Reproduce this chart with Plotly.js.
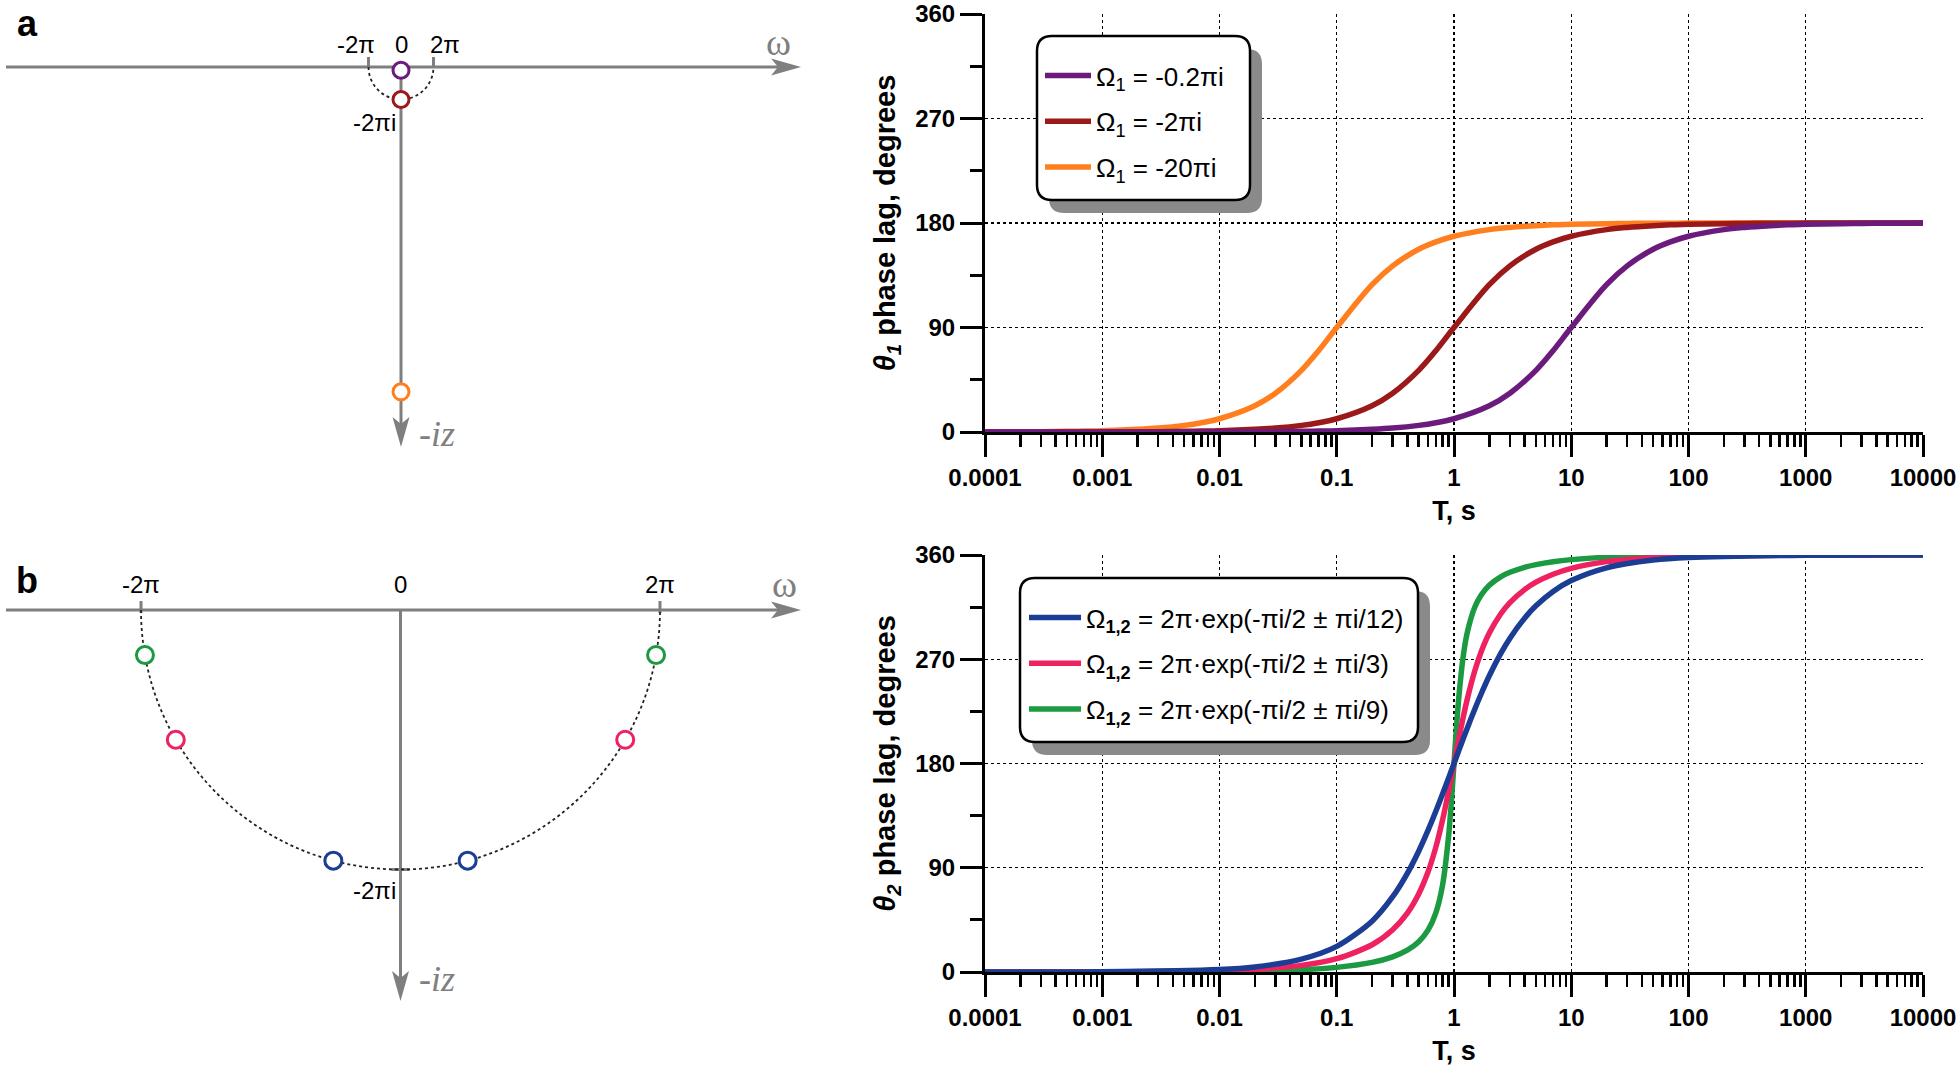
<!DOCTYPE html>
<html><head><meta charset="utf-8">
<script src="https://cdn.plot.ly/plotly-3.0.1.min.js"></script>
<style>html,body{margin:0;padding:0;background:#fff;}#chart{width:1960px;height:1066px;}</style>
</head><body><div id="chart"></div>
<script>
// ================= DATA =================
// Panel a: poles Ω1 on the complex plane (real part, imaginary part)
const polesA_labels = ['-0.2πi', '-2πi', '-20πi'];
const polesA_re = [0, 0, 0];
const polesA_im = [-0.628, -6.283, -62.83];
// Panel b: pole pairs Ω1,2 = 2π·exp(-πi/2 ± ...)
const polesB_re = [-1.626, 1.626, -5.441, 5.441, -6.188, 6.188];
const polesB_im = [-6.069, -6.069, -3.142, -3.142, -1.091, -1.091];

// Top chart: θ1 phase lag (degrees) vs period T (s)
const periodTop = [1e-4,2e-4,3e-4,5e-4,7e-4, 1e-3,2e-3,3e-3,5e-3,7e-3, 0.01,0.02,0.03,0.05,0.07,
  0.1,0.2,0.3,0.5,0.7, 1,2,3,5,7, 10,20,30,50,70, 100,200,300,500,700, 1000,2000,3000,5000,7000, 10000];
const theta1_a = [0,0,0,0,0, 0,0,0,0.1,0.1, 0.1,0.2,0.3,0.6,0.8,
  1.1,2.3,3.4,5.7,8.0, 11.4,22.6,33.4,53.1,70.0, 90,126.9,143.1,157.4,163.7,
  168.6,174.3,176.2,177.7,178.4, 178.9,179.4,179.6,179.8,179.8, 179.9];           // Ω1 = -0.2πi
const theta1_b = [0,0,0,0.1,0.1, 0.1,0.2,0.3,0.6,0.8, 1.1,2.3,3.4,5.7,8.0,
  11.4,22.6,33.4,53.1,70.0, 90,126.9,143.1,157.4,163.7, 168.6,174.3,176.2,177.7,178.4,
  178.9,179.4,179.6,179.8,179.8, 179.9,179.9,180,180,180, 180];                   // Ω1 = -2πi
const theta1_c = [0.1,0.2,0.3,0.6,0.8, 1.1,2.3,3.4,5.7,8.0, 11.4,22.6,33.4,53.1,70.0,
  90,126.9,143.1,157.4,163.7, 168.6,174.3,176.2,177.7,178.4, 178.9,179.4,179.6,179.8,179.8,
  179.9,179.9,180,180,180, 180,180,180,180,180, 180];                              // Ω1 = -20πi
const namesTop = ['Ω<sub>1</sub> = -0.2πi', 'Ω<sub>1</sub> = -2πi', 'Ω<sub>1</sub> = -20πi'];

// Bottom chart: θ2 phase lag (degrees) vs period T (s)
const periodBot = [1e-4,1e-3,0.01,0.02,0.05,0.1,0.2,0.3,0.4,0.5,0.6,0.7,0.8,0.9,0.95,1,
  1.05,1.1,1.2,1.3,1.5,1.7,2,2.5,3,4,5,7,10,20,50,100,1000,10000];
const theta2_12 = [0,0.2,2.2,4.4,11.1,22.1,43.9,65.0,85.2,104.3,122.2,138.7,153.8,167.5,173.9,180,
  185.8,191.3,201.5,210.7,226.7,239.8,255.7,274.8,288.2,305.5,316.1,328.5,337.9,348.9,355.6,357.8,359.8,360];
const theta2_3 = [0,0.1,1.1,2.3,5.7,11.5,23.5,36.5,50.9,67.4,86.3,107.8,131.5,156.2,168.3,180,
  191.2,201.6,220.3,235.9,259.6,276.1,292.6,309.1,318.9,330.1,336.5,343.4,348.5,354.3,357.7,358.9,359.9,360];
const theta2_9 = [0,0,0.4,0.8,2.0,4.0,8.3,13.1,18.8,26.1,36.1,51.1,75.4,117.5,147.1,180,
  211.3,237.5,273.0,293.5,314.7,325.2,333.9,341.2,345.1,349.4,351.7,354.2,356.0,358.0,359.2,359.6,360,360];
const namesBot = ['Ω<sub><b>1,2</b></sub> = 2π·exp(-πi/2 ± πi/12)',
                  'Ω<sub><b>1,2</b></sub> = 2π·exp(-πi/2 ± πi/3)',
                  'Ω<sub><b>1,2</b></sub> = 2π·exp(-πi/2 ± πi/9)'];

const yTicks = [0, 90, 180, 270, 360];
const xTickVals = [1e-4, 1e-3, 1e-2, 1e-1, 1, 10, 100, 1000, 10000];
const xTickText = ['0.0001','0.001','0.01','0.1','1','10','100','1000','10000'];

// ================= STYLE / GEOMETRY =================
const W = 1960, H = 1066;
const colTop = ['#6b1b7c', '#9b1919', '#ff7f1e'];
const colBot = ['#1b3d93', '#ef2261', '#1c9a42'];
const polesBColors = [colBot[0], colBot[0], colBot[1], colBot[1], colBot[2], colBot[2]];
const gray = '#7f7f7f';
const sans = '"Liberation Sans", Arial, sans-serif';
const serif = '"Liberation Serif", "Times New Roman", serif';
const px = x => x / W;
const py = y => 1 - y / H;

// diagram geometry (pixels per unit, centre)
const A = {s: 5.17, cx: 401, cy: 67, top: 0, bot: 540};
const B = {s: 41.3, cx: 400.5, cy: 610, top: 540, bot: 1066};
const dx = (G, p) => (p - G.cx) / G.s;
const dy = (G, p) => (G.cy - p) / G.s;

const traces = [];
[[theta1_c, 2], [theta1_b, 1], [theta1_a, 0]].forEach(([v, i]) => traces.push({
  x: periodTop, y: v, type: 'scatter', mode: 'lines', name: namesTop[i],
  line: {color: colTop[i], width: 5.5, shape: 'spline', smoothing: 1},
  xaxis: 'x', yaxis: 'y', legend: 'legend', legendrank: i + 1, legendgroup: 't' + i,
  cliponaxis: false, hoverinfo: 'skip'
}));
[[theta2_9, 2], [theta2_3, 1], [theta2_12, 0]].forEach(([v, i]) => traces.push({
  x: periodBot, y: v, type: 'scatter', mode: 'lines', name: namesBot[i],
  line: {color: colBot[i], width: 5.5, shape: 'spline', smoothing: 0.8},
  xaxis: 'x2', yaxis: 'y2', legend: 'legend2', legendrank: i + 1, legendgroup: 'b' + i,
  cliponaxis: false, hoverinfo: 'skip'
}));
traces.push({x: polesA_re, y: polesA_im, type: 'scatter', mode: 'markers', xaxis: 'x3', yaxis: 'y3',
  text: polesA_labels, showlegend: false, hoverinfo: 'skip', cliponaxis: false,
  marker: {symbol: 'circle', size: 16, color: 'white', line: {color: colTop, width: 3}}});
traces.push({x: polesB_re, y: polesB_im, type: 'scatter', mode: 'markers', xaxis: 'x4', yaxis: 'y4',
  showlegend: false, hoverinfo: 'skip', cliponaxis: false,
  marker: {symbol: 'circle', size: 17, color: 'white', line: {color: polesBColors, width: 3}}});

function chartX(dom, anchor) {
  return {type: 'log', domain: dom, range: [-4, 4], anchor: anchor,
    tickmode: 'array', tickvals: xTickVals, ticktext: xTickText,
    ticks: 'outside', ticklen: 22, tickwidth: 3, tickcolor: '#000',
    minor: {ticks: 'outside', ticklen: 12, tickwidth: 2.5, tickcolor: '#000', dtick: 'D1', showgrid: false},
    showline: true, linewidth: 3, linecolor: '#000',
    showgrid: true, gridcolor: '#000', griddash: 'dot', gridwidth: 1.2,
    zeroline: false, layer: 'below traces', automargin: false,
    tickfont: {family: sans, size: 24, color: '#000', weight: 'bold'},
    title: {text: 'T, s', standoff: 12, font: {family: sans, size: 27, color: '#000', weight: 'bold'}}};
}
function chartY(dom, anchor, t) {
  return {domain: dom, range: [0, 360], anchor: anchor,
    tickmode: 'array', tickvals: yTicks,
    ticks: 'outside', ticklen: 22, tickwidth: 3, tickcolor: '#000',
    minor: {ticks: 'outside', ticklen: 12, tickwidth: 3, tickcolor: '#000', dtick: 45, tick0: 0, showgrid: false},
    showline: true, linewidth: 3, linecolor: '#000',
    showgrid: true, gridcolor: '#000', griddash: 'dot', gridwidth: 1.2,
    zeroline: false, layer: 'below traces', automargin: false,
    tickfont: {family: sans, size: 24, color: '#000', weight: 'bold'},
    title: {text: t, standoff: 12, font: {family: sans, size: 29, color: '#000', weight: 'bold'}}};
}
function diagAxes(G) {
  return [
    {domain: [0, px(820)], range: [dx(G, 0), dx(G, 820)], visible: false, fixedrange: true},
    {domain: [py(G.bot), py(G.top)], range: [dy(G, G.bot), dy(G, G.top)], visible: false, fixedrange: true}
  ];
}
const [x3, y3] = diagAxes(A);
const [x4, y4] = diagAxes(B);
x3.anchor = 'y3'; y3.anchor = 'x3'; x4.anchor = 'y4'; y4.anchor = 'x4';

// ---------- shapes ----------
const shapes = [];
function ln(xr, yr, x0, y0, x1, y1, color, w) {
  shapes.push({type: 'line', xref: xr, yref: yr, x0, y0, x1, y1, layer: 'below',
    line: {color, width: w}});
}
function arc(xr, yr, R) {
  const k = 0.5523 * R;
  shapes.push({type: 'path', xref: xr, yref: yr, layer: 'below',
    path: `M${-R},0 C${-R},${-k} ${-k},${-R} 0,${-R} C${k},${-R} ${R},${-k} ${R},0`,
    line: {color: '#222', width: 1.8, dash: 'dot'}});
}
// arrowheads in data units (equal px scale on both diagram axes)
function headRight(xr, yr, G, hx) {
  const L = 30 / G.s, N = 23 / G.s, w = 8.5 / G.s;
  shapes.push({type: 'path', xref: xr, yref: yr, layer: 'below', fillcolor: gray, line: {width: 0},
    path: `M${hx},0 L${hx - L},${w} L${hx - N},0 L${hx - L},${-w} Z`});
}
function headDown(xr, yr, G, hy) {
  const L = 30 / G.s, N = 23 / G.s, w = 8.5 / G.s;
  shapes.push({type: 'path', xref: xr, yref: yr, layer: 'below', fillcolor: gray, line: {width: 0},
    path: `M0,${hy} L${w},${hy + L} L0,${hy + N} L${-w},${hy + L} Z`});
}
const twoPi = 6.283;
// panel a
ln('x3', 'y3', dx(A, 6), 0, dx(A, 780), 0, gray, 3);
ln('x3', 'y3', 0, 0, 0, dy(A, 425), gray, 3);
ln('x3', 'y3', -twoPi, 0, -twoPi, 10 / A.s, gray, 3);
ln('x3', 'y3', twoPi, 0, twoPi, 10 / A.s, gray, 3);
arc('x3', 'y3', twoPi);
headRight('x3', 'y3', A, dx(A, 801));
headDown('x3', 'y3', A, dy(A, 447));
// panel b
ln('x4', 'y4', dx(B, 6), 0, dx(B, 780), 0, gray, 3);
ln('x4', 'y4', 0, 0, 0, dy(B, 980), gray, 3);
ln('x4', 'y4', -twoPi, -3 / B.s, -twoPi, 9 / B.s, gray, 3);
ln('x4', 'y4', twoPi, -3 / B.s, twoPi, 9 / B.s, gray, 3);
ln('x4', 'y4', -9 / B.s, -twoPi, 9 / B.s, -twoPi, gray, 3);
arc('x4', 'y4', twoPi);
headRight('x4', 'y4', B, dx(B, 801));
headDown('x4', 'y4', B, dy(B, 1001));

// legend boxes with drop shadows
function rr(w, h, r) {
  return `M${-w + r},${-h} L${w - r},${-h} Q${w},${-h} ${w},${-h + r} L${w},${h - r} Q${w},${h} ${w - r},${h} ` +
         `L${-w + r},${h} Q${-w},${h} ${-w},${h - r} L${-w},${-h + r} Q${-w},${-h} ${-w + r},${-h} Z`;
}
function box(x0, y0, x1, y1) {
  const w = (x1 - x0) / 2, h = (y1 - y0) / 2, cx = (x0 + x1) / 2, cy = (y0 + y1) / 2;
  shapes.push({type: 'path', xref: 'paper', yref: 'paper', xsizemode: 'pixel', ysizemode: 'pixel',
    xanchor: px(cx + 12), yanchor: py(cy + 13), path: rr(w, h, 15), fillcolor: '#8a8a8a',
    line: {width: 0}, layer: 'above'});
  shapes.push({type: 'path', xref: 'paper', yref: 'paper', xsizemode: 'pixel', ysizemode: 'pixel',
    xanchor: px(cx), yanchor: py(cy), path: rr(w, h, 15), fillcolor: '#fff',
    line: {width: 2.5, color: '#000'}, layer: 'above'});
}
box(1037, 36, 1250, 200);
box(1020, 578, 1418, 742);

// ---------- annotations ----------
const ann = [];
function txt(x, y, t, font, xanchor) {
  ann.push({xref: 'paper', yref: 'paper', x: px(x), y: py(y), text: t, showarrow: false,
    xanchor: xanchor || 'center', yanchor: 'middle', font});
}
const fLab = {family: sans, size: 24, color: '#000'};
const fPanel = {family: sans, size: 36, color: '#000', weight: 'bold'};
const fOmega = {family: serif, size: 38, color: gray};
const fIz = {family: serif, size: 36, color: gray, style: 'italic'};
txt(27, 24, 'a', fPanel);
txt(27, 580, 'b', fPanel);
txt(356, 45, '-2π', fLab);
txt(401, 45, '0', fLab);
txt(445, 45, '2π', fLab);
txt(398, 122, '-2πi', fLab, 'right');
txt(778, 42, 'ω', fOmega);
txt(437, 434, '-iz', fIz);
txt(141, 584, '-2π', fLab);
txt(400, 584, '0', fLab);
txt(660, 584, '2π', fLab);
txt(398, 890, '-2πi', fLab, 'right');
txt(784, 584, 'ω', fOmega);
txt(437, 979, '-iz', fIz);

const legFont = {family: sans, size: 26, color: '#000'};
const layout = {
  width: W, height: H, margin: {l: 0, r: 0, t: 0, b: 0},
  paper_bgcolor: '#fff', plot_bgcolor: 'rgba(0,0,0,0)',
  xaxis: chartX([px(985), px(1923)], 'y'),
  yaxis: chartY([py(432), py(14)], 'x', '<i>θ</i><sub><i>1</i></sub> phase lag, degrees'),
  xaxis2: chartX([px(985), px(1923)], 'y2'),
  yaxis2: chartY([py(972), py(555)], 'x2', '<i>θ</i><sub><i>2</i></sub> phase lag, degrees'),
  xaxis3: x3, yaxis3: y3, xaxis4: x4, yaxis4: y4,
  legend: {x: px(1040), y: py(52), xanchor: 'left', yanchor: 'top', bgcolor: 'rgba(0,0,0,0)',
    borderwidth: 0, font: legFont, tracegroupgap: 9, traceorder: 'grouped', itemwidth: 46},
  legend2: {x: px(1024), y: py(594), xanchor: 'left', yanchor: 'top', bgcolor: 'rgba(0,0,0,0)',
    borderwidth: 0, font: legFont, tracegroupgap: 9, traceorder: 'grouped', itemwidth: 52},
  shapes, annotations: ann, showlegend: true, hovermode: false
};
Plotly.newPlot('chart', traces, layout, {staticPlot: true, displayModeBar: false});
</script></body></html>
